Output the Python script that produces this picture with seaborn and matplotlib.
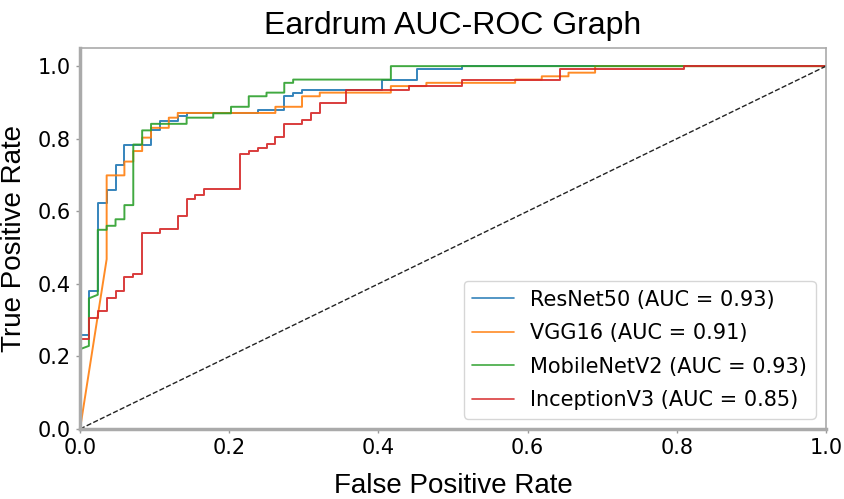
import matplotlib
matplotlib.use("Agg")
import matplotlib.pyplot as plt
import pandas as pd
import seaborn as sns

# ROC corner points
resnet_fpr = [0, 0, 0.0119, 0.0119, 0.0238, 0.0238, 0.0357, 0.0357, 0.0476, 0.0476,
              0.0595, 0.0595, 0.0952, 0.0952, 0.1071, 0.1071, 0.131, 0.131, 0.1429, 0.1429,
              0.2381, 0.2381, 0.2738, 0.2738, 0.2857, 0.2857, 0.2976, 0.2976, 0.4048, 0.4048,
              0.4524, 0.4524, 0.5119, 0.5119, 1.0]
resnet_tpr = [0, 0.26, 0.26, 0.381, 0.381, 0.624, 0.624, 0.66, 0.66, 0.728,
              0.728, 0.784, 0.784, 0.823, 0.823, 0.85, 0.85, 0.862, 0.862, 0.871,
              0.871, 0.879, 0.879, 0.917, 0.917, 0.927, 0.927, 0.935, 0.935, 0.963,
              0.963, 0.991, 0.991, 1.0, 1.0]

vgg_fpr = [0, 0.0357, 0.0357, 0.0595, 0.0595, 0.0714, 0.0714, 0.0833, 0.0833, 0.0952,
           0.0952, 0.119, 0.119, 0.131, 0.131, 0.2619, 0.2619, 0.2976, 0.2976, 0.3214,
           0.3214, 0.4167, 0.4167, 0.4643, 0.4643, 0.5833, 0.5833, 0.619, 0.619, 0.6548,
           0.6548, 0.6905, 0.6905, 1.0]
vgg_tpr = [0, 0.468, 0.699, 0.699, 0.737, 0.737, 0.766, 0.766, 0.803, 0.803,
           0.83, 0.83, 0.858, 0.858, 0.871, 0.871, 0.888, 0.888, 0.917, 0.917,
           0.927, 0.927, 0.945, 0.945, 0.954, 0.954, 0.963, 0.963, 0.972, 0.972,
           0.982, 0.982, 1.0, 1.0]

mobilenet_fpr = [0, 0, 0.0119, 0.0119, 0.0238, 0.0238, 0.0357, 0.0357, 0.0476, 0.0476,
                 0.0595, 0.0595, 0.0714, 0.0714, 0.0833, 0.0833, 0.0952, 0.0952, 0.1429, 0.1429,
                 0.1786, 0.1786, 0.2024, 0.2024, 0.2262, 0.2262, 0.25, 0.25, 0.2738, 0.2738,
                 0.2857, 0.2857, 0.4167, 0.4167, 1.0]
mobilenet_tpr = [0, 0.22, 0.229, 0.36, 0.37, 0.549, 0.549, 0.56, 0.56, 0.578,
                 0.578, 0.617, 0.617, 0.784, 0.784, 0.823, 0.823, 0.841, 0.841, 0.858,
                 0.858, 0.87, 0.87, 0.888, 0.888, 0.917, 0.917, 0.927, 0.927, 0.954,
                 0.954, 0.963, 0.963, 1.0, 1.0]

inception_fpr = [0, 0, 0.0119, 0.0119, 0.0238, 0.0238, 0.0357, 0.0357, 0.0476, 0.0476,
                 0.0595, 0.0595, 0.0714, 0.0714, 0.0833, 0.0833, 0.1071, 0.1071, 0.131, 0.131,
                 0.1429, 0.1429, 0.1548, 0.1548, 0.1667, 0.1667, 0.2143, 0.2143, 0.2262, 0.2262,
                 0.2381, 0.2381, 0.25, 0.25, 0.2619, 0.2619, 0.2738, 0.2738, 0.2976, 0.2976,
                 0.3095, 0.3095, 0.3214, 0.3214, 0.3571, 0.3571, 0.4405, 0.4405, 0.5119, 0.5119,
                 0.6429, 0.6429, 0.8095, 0.8095, 1.0]
inception_tpr = [0, 0.248, 0.248, 0.307, 0.307, 0.324, 0.324, 0.362, 0.362, 0.381,
                 0.381, 0.418, 0.418, 0.427, 0.427, 0.541, 0.541, 0.55, 0.55, 0.587,
                 0.587, 0.635, 0.635, 0.644, 0.644, 0.662, 0.662, 0.757, 0.757, 0.766,
                 0.766, 0.775, 0.775, 0.786, 0.786, 0.805, 0.805, 0.841, 0.841, 0.851,
                 0.851, 0.87, 0.87, 0.899, 0.899, 0.934, 0.934, 0.945, 0.945, 0.963,
                 0.963, 0.991, 0.991, 1.0, 1.0]

models = ["ResNet50", "VGG16", "MobileNetV2", "InceptionV3"]
auc_scores = [0.93, 0.91, 0.93, 0.85]
chance = [0, 1]

curves = [(resnet_fpr, resnet_tpr), (vgg_fpr, vgg_tpr),
          (mobilenet_fpr, mobilenet_tpr), (inception_fpr, inception_tpr)]
colors = sns.color_palette("tab10", 4)

sns.set_style("white")
plt.rcParams["text.color"] = "black"
plt.rcParams["axes.labelcolor"] = "black"
plt.rcParams["xtick.color"] = "black"
plt.rcParams["ytick.color"] = "black"

fig = plt.figure(figsize=(8.45, 4.99), dpi=100)
ax = fig.add_axes([0.0947, 0.1403, 0.8828, 0.7635])

for name, auc, (fpr, tpr), c in zip(models, auc_scores, curves, colors):
    df = pd.DataFrame({"fpr": fpr, "tpr": tpr})
    sns.lineplot(data=df, x="fpr", y="tpr", sort=False, estimator=None,
                 color=c, linewidth=1.4, alpha=0.9,
                 label=f"{name} (AUC = {auc:.2f})", ax=ax)

ax.plot(chance, chance, color="#222222", linestyle="--", linewidth=1)

ax.set_xlim(0, 1)
ax.set_ylim(0, 1.05)
ax.set_xticks([0, 0.2, 0.4, 0.6, 0.8, 1.0])
ax.set_yticks([0, 0.2, 0.4, 0.6, 0.8, 1.0])
ax.tick_params(axis="both", labelsize=15, length=3, width=1,
               bottom=True, left=True)
ax.tick_params(axis="both", color="#999999")

for side in ["left", "bottom"]:
    ax.spines[side].set_color("#aaaaaa")
    ax.spines[side].set_linewidth(2.5)
for side in ["top", "right"]:
    ax.spines[side].set_color("#aaaaaa")
    ax.spines[side].set_linewidth(1.2)

ax.set_title("Eardrum AUC-ROC Graph", fontsize=23, family="Liberation Sans", pad=10)
ax.set_xlabel("False Positive Rate", fontsize=20, family="Liberation Sans", labelpad=11)
ax.set_ylabel("True Positive Rate", fontsize=20, family="Liberation Sans", labelpad=8)

leg = ax.legend(loc="lower right", fontsize=15, frameon=True, fancybox=True,
                labelspacing=0.65)
leg.get_frame().set_edgecolor("#cccccc")
for line in leg.get_lines():
    line.set_linewidth(1.2)

fig.savefig("out.png", dpi=100)
